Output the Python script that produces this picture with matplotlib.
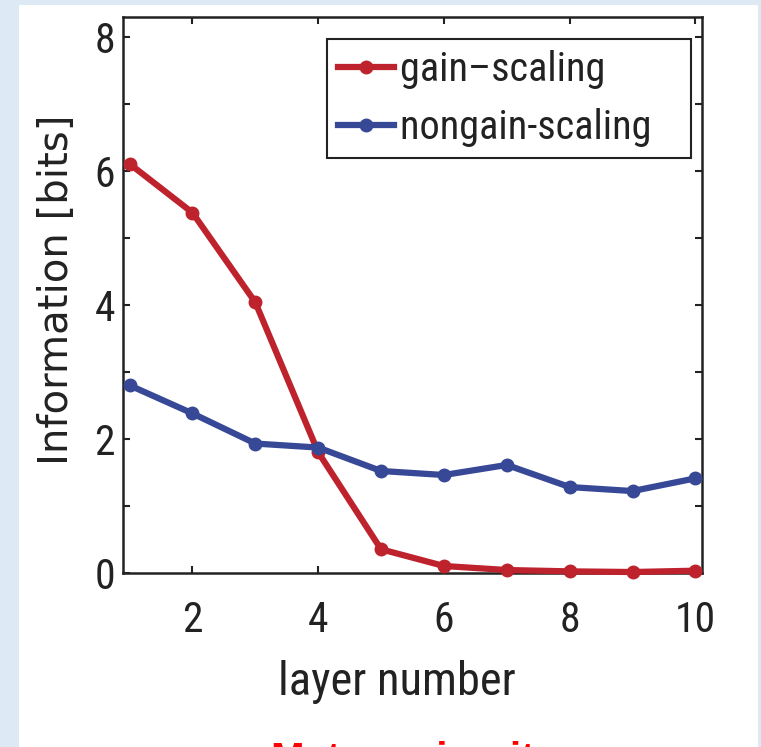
import matplotlib.pyplot as plt
from matplotlib import font_manager as fm
from matplotlib.patches import Rectangle

# values
layers = [1, 2, 3, 4, 5, 6, 7, 8, 9, 10]
gain_scaling = [6.11, 5.38, 4.04, 1.80, 0.35, 0.10, 0.04, 0.02, 0.01, 0.03]
nongain_scaling = [2.80, 2.38, 1.93, 1.87, 1.52, 1.46, 1.61, 1.28, 1.22, 1.41]
x_ticks = [2, 4, 6, 8, 10]
y_ticks = [0, 2, 4, 6, 8]
y_minor = [1, 3, 5, 7]

red = '#be232d'
blue = '#374896'
ink = '#222222'

# the reference text is squeezed sideways, so pick a narrow face if there is one
have = set(f.name for f in fm.fontManager.ttflist)
narrow = [f for f in ['Nimbus Sans Narrow', 'Liberation Sans Narrow', 'Roboto Condensed',
                      'Archivo Narrow', 'Liberation Sans'] if f in have][:1] + ['DejaVu Sans']

W, H = 761, 747
fig = plt.figure(figsize=(W / 100, H / 100), dpi=100)
fig.patch.set_facecolor('#dde9f5')
fig.patches.append(Rectangle((19 / W, 0), (758 - 19) / W, (H - 5) / H,
                             transform=fig.transFigure, facecolor='white',
                             edgecolor='none', zorder=-5))

l, r, t, b = 123.3, 701.7, 17.3, 572.7
ax = fig.add_axes([l / W, 1 - b / H, (r - l) / W, (b - t) / H])
ax.set_zorder(2)
ax.patch.set_alpha(0)

# trailing spaces give the wide right margin of the matlab legend box
ax.plot(layers, gain_scaling, color=red, lw=4.5, marker='o', ms=9,
        label='gain\u2013scaling   ', clip_on=False, zorder=3)
ax.plot(layers, nongain_scaling, color=blue, lw=4.5, marker='o', ms=9,
        label='nongain-scaling   ', clip_on=False, zorder=3)

ax.set_xlim(0.9, 10.1)
ax.set_ylim(0, 8.3)
ax.set_xticks(x_ticks)
ax.set_yticks(y_ticks)
ax.set_yticks(y_minor, minor=True)
ax.set_xticklabels([str(v) for v in x_ticks], family=narrow, fontsize=30, color=ink)
ax.set_yticklabels([str(v) for v in y_ticks], family=narrow, fontsize=30, color=ink)
ax.tick_params(axis='both', which='both', direction='in', length=5, width=1.5,
               color=ink, top=True, right=True)
ax.tick_params(axis='x', pad=20)
ax.tick_params(axis='y', pad=6)
for s in ax.spines.values():
    s.set_linewidth(1.8)
    s.set_color(ink)

ax.set_xlabel('layer number', family=narrow, fontsize=33.5, color=ink, va='top')
ax.xaxis.set_label_coords((397 - l) / (r - l), (b - 660) / (b - t))
ax.set_ylabel('Information [bits]', family='DejaVu Sans', fontsize=29, color=ink, va='center')
ax.yaxis.set_label_coords((57 - l) / (r - l), (b - 290) / (b - t))

leg = ax.legend(loc='upper right', bbox_to_anchor=((691 - l) / (r - l), (b - 39) / (b - t)),
                borderaxespad=0, fancybox=False, framealpha=1, edgecolor=ink,
                prop={'family': narrow, 'size': 29}, handlelength=1.39,
                handletextpad=0.15, labelspacing=0.47, borderpad=0.28, numpoints=1)
leg.get_frame().set_linewidth(1.5)
for txt in leg.get_texts():
    txt.set_color(ink)

fig.text(403 / W, 1 - 741 / H, 'Mature circuit', color='#ff0000', fontsize=29,
         fontweight='bold', family=['Liberation Sans', 'DejaVu Sans'],
         ha='center', va='top')

fig.savefig('out.png', dpi=100)
